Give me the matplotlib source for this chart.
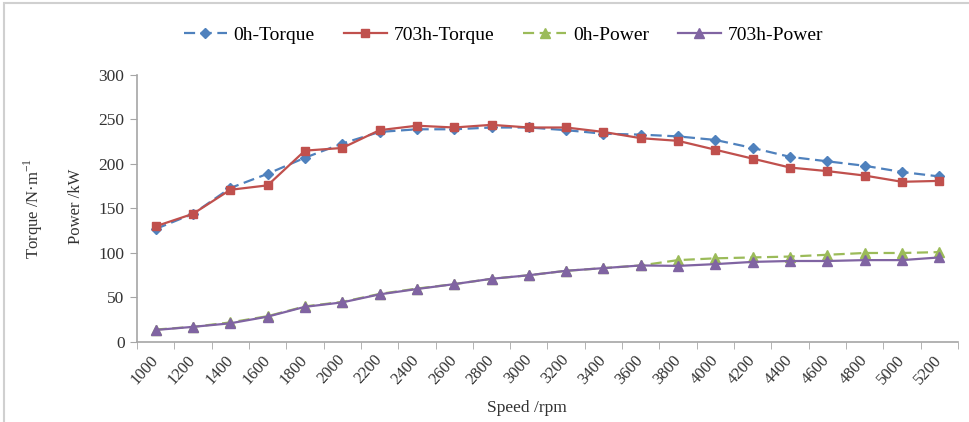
import numpy as np
from matplotlib import pyplot as plt
from matplotlib.ticker import FixedLocator, NullFormatter

plt.rc('font', family=['Liberation Serif', 'DejaVu Serif'])
plt.rc('axes', unicode_minus=False)

# engine speed categories (rpm)
speeds = [1000, 1200, 1400, 1600, 1800, 2000, 2200, 2400, 2600, 2800, 3000,
          3200, 3400, 3600, 3800, 4000, 4200, 4400, 4600, 4800, 5000, 5200]

# torque before / after the 703 h endurance run
torque_0h = [127, 144, 173, 189, 207, 223, 236, 239, 239, 241, 241,
             238, 234, 233, 231, 227, 218, 208, 203, 198, 191, 186]
torque_703h = [130, 144, 171, 176, 215, 218, 238, 243, 241, 244, 241,
               241, 236, 229, 226, 216, 206, 196, 192, 187, 180, 181]

# power before / after
power_0h = [14, 17, 22, 29, 40, 45, 54, 60, 65, 71, 75,
            80, 83, 86, 92, 94, 95, 96, 98, 100, 100, 101]
power_703h = [13.5, 17, 21, 28.5, 39.5, 44.5, 53.5, 59.5, 65, 71, 75,
              80, 83, 86, 85.5, 87.5, 90, 91, 91, 92, 92, 95]

series = [
    ('0h-Torque',   torque_0h,   '#4F81BD', (0, (5, 2.5)), 'D', 5.5),
    ('703h-Torque', torque_703h, '#C0504D', '-',           's', 6.0),
    ('0h-Power',    power_0h,    '#9BBB59', (0, (5, 2.5)), '^', 6.5),
    ('703h-Power',  power_703h,  '#8064A2', '-',           '^', 6.5),
]

fig = plt.figure(figsize=(9.69, 4.22), dpi=100)
ax = fig.add_axes([0.1414, 0.1896, 0.8472, 0.6327])

x = np.arange(len(speeds))
for name, vals, color, ls, mk, ms in series:
    ax.plot(x, vals, color=color, linestyle=ls, linewidth=1.6,
            marker=mk, markersize=ms, markeredgecolor=color,
            markerfacecolor=color, label=name)

ax.set_xlim(-0.5, len(speeds) - 0.5)
ax.set_ylim(0, 300)
ax.set_yticks(np.arange(0, 301, 50))

# category axis: tick marks between categories, labels at centers
ax.xaxis.set_major_locator(FixedLocator(x))
ax.set_xticklabels([str(s) for s in speeds], rotation=48, ha='right',
                   va='center', rotation_mode='anchor', fontsize=12)
ax.xaxis.set_minor_locator(FixedLocator(np.arange(-0.5, len(speeds), 1.0)))
ax.xaxis.set_minor_formatter(NullFormatter())
ax.tick_params(axis='x', which='major', length=0, pad=11)
ax.tick_params(axis='x', which='minor', length=5, color='#A6A6A6',
               direction='out')
ax.tick_params(axis='y', length=5, color='#A6A6A6', labelsize=12.5,
               labelcolor='#333333', pad=4)
ax.tick_params(axis='x', labelcolor='#333333')

for side in ('top', 'right'):
    ax.spines[side].set_visible(False)
for side in ('left', 'bottom'):
    ax.spines[side].set_color('#A6A6A6')
    ax.spines[side].set_linewidth(1.2)

ax.set_xlabel('Speed /rpm', fontsize=12.5, color='#333333')
ax.xaxis.set_label_coords(0.475, -0.218)
fig.text(0.034, 0.505, 'Torque /N\u00b7m$^{\\mathregular{-1}}$', rotation=90,
         fontsize=12, color='#333333', ha='center', va='center')
fig.text(0.078, 0.51, 'Power /kW', rotation=90, fontsize=12,
         color='#333333', ha='center', va='center')

fig.legend(loc='center', bbox_to_anchor=(0.5196, 0.917), ncol=4,
           frameon=False, fontsize=14, handlelength=2.2,
           columnspacing=1.5, handletextpad=0.35)

# light frame around the chart area
fig.patches.append(plt.Rectangle((0.004, -0.01), 1.2, 1.003,
                                 transform=fig.transFigure, fill=False,
                                 edgecolor='#D0D0D0', linewidth=1.5))

fig.savefig('out.png', dpi=100)
